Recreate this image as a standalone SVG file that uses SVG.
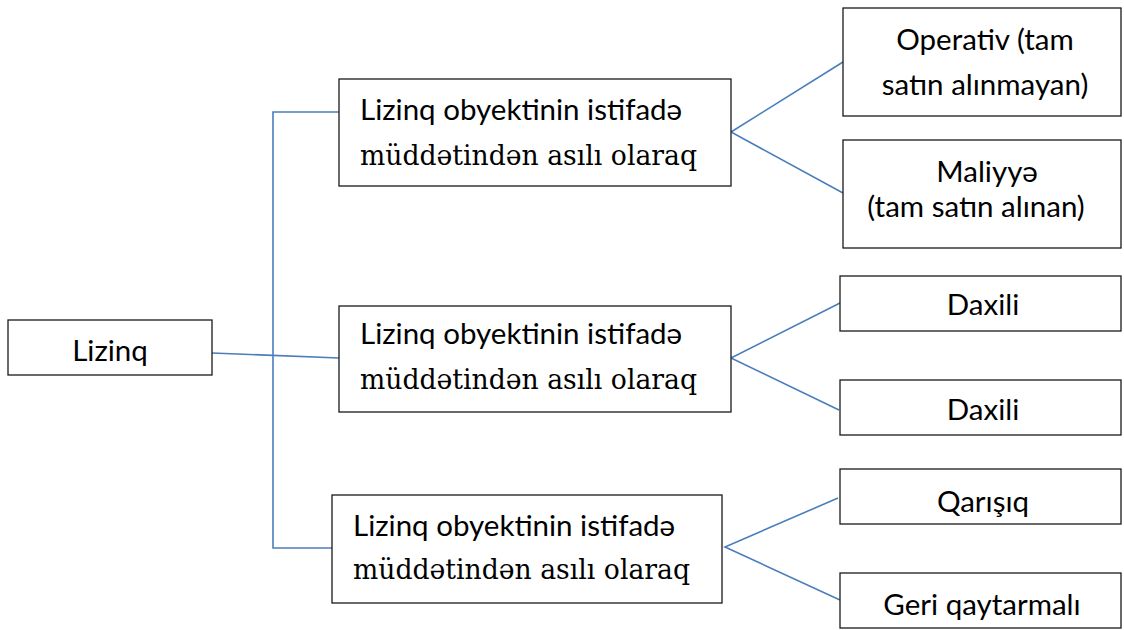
<svg xmlns="http://www.w3.org/2000/svg" width="1124" height="630" viewBox="0 0 1124 630">
<style>
.box{fill:#fff;stroke:#1a1a1a;stroke-width:1.3}
.t{font-family:Lato,"Open Sans","Liberation Sans",sans-serif;font-size:29.5px;fill:#000}
.c{text-anchor:middle}
.s{font-family:"DejaVu Serif","Liberation Serif",serif;font-size:27px}
.ln{stroke:#4a7ebb;stroke-width:1.6;fill:none}
</style>
<rect width="1124" height="630" fill="#fff"/>
<g id="connectors">
<polyline class="ln" points="339,112 273,112 273,548 332,548"/>
<line class="ln" x1="212" y1="353" x2="339" y2="358"/>
<polyline class="ln" points="843,62 731,132 843,193"/>
<polyline class="ln" points="840,303 731,358 839,410"/>
<polyline class="ln" points="838,498 725,547 840,600"/>
</g>
<g id="lizinq"><rect class="box" x="8" y="320" width="204" height="55"/><text class="t c" x="110" y="361">Lizinq</text></g>
<g id="mid1"><rect class="box" x="339" y="79" width="392" height="107"/><text class="t" x="360" y="120">Lizinq obyektinin istifadə</text><text class="t s" x="360" y="165" textLength="337" lengthAdjust="spacingAndGlyphs">müddətindən asılı olaraq</text></g>
<g id="mid2"><rect class="box" x="339" y="306" width="392" height="106"/><text class="t" x="360" y="344">Lizinq obyektinin istifadə</text><text class="t s" x="360" y="389" textLength="337" lengthAdjust="spacingAndGlyphs">müddətindən asılı olaraq</text></g>
<g id="mid3"><rect class="box" x="332" y="495" width="390" height="108"/><text class="t" x="353" y="536">Lizinq obyektinin istifadə</text><text class="t s" x="353" y="579" textLength="337" lengthAdjust="spacingAndGlyphs">müddətindən asılı olaraq</text></g>
<g id="operativ"><rect class="box" x="843" y="8" width="278" height="108"/><text class="t c" x="985" y="50">Operativ (tam</text><text class="t c" x="985" y="95">satın alınmayan)</text></g>
<g id="maliyye"><rect class="box" x="843" y="140" width="278" height="108"/><text class="t c" x="987" y="182">Maliyyə</text><text class="t c" x="976" y="217">(tam satın alınan)</text></g>
<g id="daxili1"><rect class="box" x="840" y="276" width="281" height="55"/><text class="t c" x="983" y="315">Daxili</text></g>
<g id="daxili2"><rect class="box" x="840" y="380" width="281" height="55"/><text class="t c" x="983" y="420">Daxili</text></g>
<g id="qarisiq"><rect class="box" x="840" y="469" width="281" height="55"/><text class="t c" x="983" y="512">Qarışıq</text></g>
<g id="geri"><rect class="box" x="840" y="573" width="281" height="55"/><text class="t c" x="982" y="615">Geri qaytarmalı</text></g>
</svg>
